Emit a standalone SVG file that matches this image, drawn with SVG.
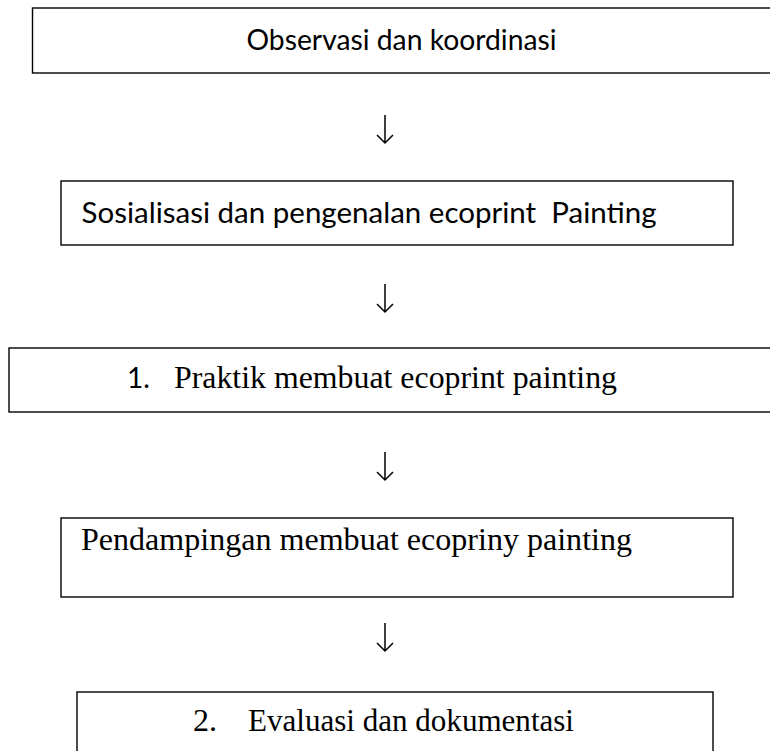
<svg xmlns="http://www.w3.org/2000/svg" width="770" height="751" viewBox="0 0 770 751">
<style>
.box{fill:#fff;stroke:#000;stroke-width:1.4}
.sans{font-family:Lato,"Open Sans","Liberation Sans",sans-serif;font-size:28px;fill:#000;white-space:pre}
.serif{font-family:"Liberation Serif","Times New Roman",serif;font-size:32px;fill:#000;white-space:pre}
.arr{fill:none;stroke:#000;stroke-width:1.5}
</style>
<rect width="770" height="751" fill="#fff"/>
<g id="node1">
<rect class="box" x="32.5" y="8" width="760" height="65"/>
<text class="sans" x="246.5" y="50" textLength="310" lengthAdjust="spacingAndGlyphs">Observasi dan koordinasi</text>
</g>
<g id="node2">
<rect class="box" x="61" y="181" width="672" height="64"/>
<text class="sans" x="81.5" y="223" textLength="575" lengthAdjust="spacingAndGlyphs">Sosialisasi dan pengenalan ecoprint  Painting</text>
</g>
<g id="node3">
<rect class="box" x="9" y="348" width="790" height="64"/>
<text class="sans" x="127" y="388">1.</text>
<text class="serif" x="174" y="388" textLength="443" lengthAdjust="spacingAndGlyphs">Praktik membuat ecoprint painting</text>
</g>
<g id="node4">
<rect class="box" x="61" y="518" width="672" height="79"/>
<text class="serif" x="81" y="550" textLength="551" lengthAdjust="spacingAndGlyphs">Pendampingan membuat ecopriny painting</text>
</g>
<g id="node5">
<rect class="box" x="77" y="692" width="636" height="80"/>
<text class="serif" x="193" y="731">2.</text>
<text class="serif" x="248" y="731" textLength="326" lengthAdjust="spacingAndGlyphs">Evaluasi dan dokumentasi</text>
</g>
<g id="connectors">
<path class="arr" d="M385 115 V143 M377 135 L385 143 L393 135"/>
<path class="arr" d="M385 284 V312 M377 304 L385 312 L393 304"/>
<path class="arr" d="M385 452 V480 M377 472 L385 480 L393 472"/>
<path class="arr" d="M385 623 V651 M377 643 L385 651 L393 643"/>
</g>
</svg>
